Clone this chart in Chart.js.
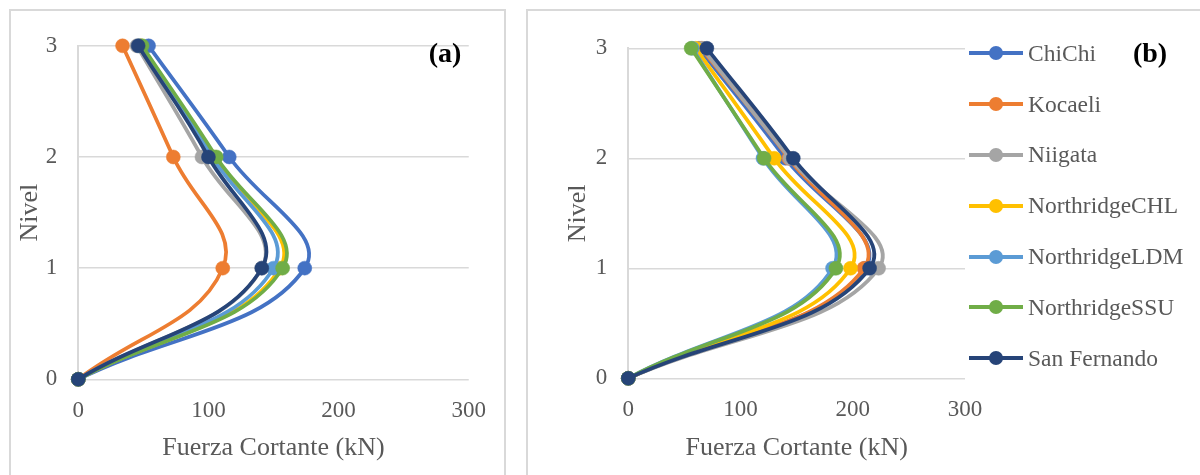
<!DOCTYPE html>
<html lang="es">
<head>
<meta charset="utf-8">
<title>Fuerza cortante por nivel</title>
<script src="https://cdn.jsdelivr.net/npm/chart.js@4.4.1/dist/chart.umd.min.js"></script>
<style>
  html, body { margin: 0; padding: 0; background: #fff; overflow: hidden; width: 1200px; height: 475px; }
  .panel { position: absolute; border: 2px solid #d9d9d9; background: #fff; overflow: hidden; }
  .tag { position: absolute; font-family: "Liberation Serif", "Times New Roman", serif; font-weight: bold;
         font-size: 28px; color: #000; transform: translate(-50%, -50%); white-space: nowrap; }
  #legendB { position: absolute; left: 969px; top: 0; font-family: "Liberation Serif", "Times New Roman", serif; }
  .lg-item { position: absolute; left: 0; height: 30px; display: flex; align-items: center; white-space: nowrap; }
  .lg-mark { position: relative; width: 54px; height: 30px; }
  .lg-line { position: absolute; left: 0; right: 0; top: 13px; height: 4px; }
  .lg-dot { position: absolute; left: 20px; top: 8px; width: 14px; height: 14px; border-radius: 50%; }
  .lg-text { margin-left: 5px; font-size: 23.5px; color: #595959; }
</style>
</head>
<body>
<div class="panel" id="pa" style="left:9px; top:9px; width:493px; height:480px;">
  <canvas id="chartA" width="493" height="470"></canvas>
</div>
<div class="panel" id="pb" style="left:526px; top:9px; width:700px; height:480px;">
  <canvas id="chartB" width="680" height="470"></canvas>
</div>
<div class="tag" style="left:445px; top:53px;">(a)</div>
<div class="tag" style="left:1150px; top:53px;">(b)</div>
<div id="legendB"></div>

<script>
// Niveles del edificio (eje vertical)
const niveles = [0, 1, 2, 3];
const ticksCortante = [0, 100, 200, 300];
const ticksNivel = [0, 1, 2, 3];

// Registros sísmicos
const registros = ['ChiChi', 'Kocaeli', 'Niigata', 'NorthridgeCHL', 'NorthridgeLDM', 'NorthridgeSSU', 'San Fernando'];

// (a) Fuerza cortante por nivel (kN), niveles 0..3
const cortanteA_ChiChi        = [0, 174, 116, 54];
const cortanteA_Kocaeli       = [0, 111, 73, 34];
const cortanteA_Niigata       = [0, 141, 95, 45];
const cortanteA_NorthridgeCHL = [0, 155, 104, 48];
const cortanteA_NorthridgeLDM = [0, 150, 103, 47];
const cortanteA_NorthridgeSSU = [0, 157, 106, 49];
const cortanteA_SanFernando   = [0, 141, 100, 46];

// (b) Fuerza cortante por nivel (kN), niveles 0..3
const cortanteB_ChiChi        = [0, 211, 140, 63];
const cortanteB_Kocaeli       = [0, 210, 143, 65];
const cortanteB_Niigata       = [0, 223, 144, 66];
const cortanteB_NorthridgeCHL = [0, 198, 130, 60];
const cortanteB_NorthridgeLDM = [0, 182, 120, 57];
const cortanteB_NorthridgeSSU = [0, 185, 121, 56];
const cortanteB_SanFernando   = [0, 215, 147, 70];

// Paleta de Office para las series
const colores = ['#4472C4', '#ED7D31', '#A5A5A5', '#FFC000', '#5B9BD5', '#70AD47', '#264478'];

const serieA = [cortanteA_ChiChi, cortanteA_Kocaeli, cortanteA_Niigata, cortanteA_NorthridgeCHL,
                cortanteA_NorthridgeLDM, cortanteA_NorthridgeSSU, cortanteA_SanFernando];
const serieB = [cortanteB_ChiChi, cortanteB_Kocaeli, cortanteB_Niigata, cortanteB_NorthridgeCHL,
                cortanteB_NorthridgeLDM, cortanteB_NorthridgeSSU, cortanteB_SanFernando];

const FUENTE = '"Liberation Serif", "Times New Roman", serif';
const GRIS_TEXTO = '#595959';
const GRIS_REJILLA = '#d9d9d9';

function construirDatasets(series) {
  return series.map((valores, i) => ({
    label: registros[i],
    data: valores.map((v, k) => ({ x: v, y: niveles[k] })),
    borderColor: colores[i],
    backgroundColor: colores[i],
    pointBackgroundColor: colores[i],
    pointBorderColor: colores[i],
    pointRadius: 7,
    pointBorderWidth: 0.5,
    pointHoverRadius: 7,
    borderWidth: 3.75,
    showLine: true,
    tension: 0.42,
    fill: false,
    clip: false,
    // the last series is painted on top, as in the workbook
    order: series.length - 1 - i
  }));
}

function opciones(cfg) {
  return {
    responsive: false,
    animation: false,
    events: [],
    layout: { padding: cfg.padding },
    plugins: {
      legend: { display: false },
      tooltip: { enabled: false }
    },
    scales: {
      x: {
        type: 'linear',
        min: 0, max: 300,
        afterBuildTicks: (axis) => { axis.ticks = ticksCortante.map(v => ({ value: v })); },
        afterFit: (axis) => { axis.height = cfg.xHeight; },
        grid: { display: false, drawTicks: false },
        border: { display: false },
        ticks: { padding: cfg.xTickPad, color: GRIS_TEXTO, font: { family: FUENTE, size: 23 }, maxRotation: 0 },
        title: {
          display: true, text: 'Fuerza Cortante (kN)', color: GRIS_TEXTO,
          font: { family: FUENTE, size: 26, lineHeight: 1.2 },
          padding: { top: 0, bottom: cfg.xTitlePad }
        }
      },
      y: {
        type: 'linear',
        min: 0, max: 3,
        afterBuildTicks: (axis) => { axis.ticks = ticksNivel.map(v => ({ value: v })); },
        afterFit: (axis) => { axis.width = cfg.yWidth; },
        grid: { color: GRIS_REJILLA, lineWidth: 1.5, drawTicks: false, tickLength: 0 },
        border: { display: true, color: GRIS_REJILLA, width: 2 },
        ticks: { padding: 21, color: GRIS_TEXTO, font: { family: FUENTE, size: 23 } },
        title: {
          display: true, text: 'Nivel', color: GRIS_TEXTO,
          font: { family: FUENTE, size: 26, lineHeight: 1.2 },
          padding: { top: cfg.yTitlePad, bottom: 0 }
        }
      }
    }
  };
}

// Leyenda HTML a partir de los elementos de leyenda de Chart.js
const leyendaHtml = {
  id: 'leyendaHtml',
  afterUpdate(chart) {
    const cont = document.getElementById('legendB');
    cont.innerHTML = '';
    const items = chart.options.plugins.legend.labels.generateLabels(chart)
      .sort((a, b) => a.datasetIndex - b.datasetIndex);
    items.forEach((it, i) => {
      const fila = document.createElement('div');
      fila.className = 'lg-item';
      fila.style.top = (53.3 + i * 50.8 - 15) + 'px';
      const marca = document.createElement('div');
      marca.className = 'lg-mark';
      const linea = document.createElement('div');
      linea.className = 'lg-line';
      linea.style.background = it.strokeStyle;
      const punto = document.createElement('div');
      punto.className = 'lg-dot';
      punto.style.background = it.fillStyle;
      marca.appendChild(linea);
      marca.appendChild(punto);
      const texto = document.createElement('span');
      texto.className = 'lg-text';
      texto.textContent = it.text;
      fila.appendChild(marca);
      fila.appendChild(texto);
      cont.appendChild(fila);
    });
  }
};

new Chart(document.getElementById('chartA'), {
  type: 'scatter',
  data: { datasets: construirDatasets(serieA) },
  options: opciones({
    padding: { left: 0, top: 32.3, right: 32.3, bottom: 11.7 },
    yWidth: 67.3, xHeight: 90, xTickPad: 18, xTitlePad: 5.7, yTitlePad: 3.4
  })
});

new Chart(document.getElementById('chartB'), {
  type: 'scatter',
  data: { datasets: construirDatasets(serieB) },
  options: opciones({
    padding: { left: 31, top: 37.3, right: 243, bottom: 12.7 },
    yWidth: 69.3, xHeight: 90, xTickPad: 18, xTitlePad: 4.7, yTitlePad: 3.4
  }),
  plugins: [leyendaHtml]
});
</script>
</body>
</html>
